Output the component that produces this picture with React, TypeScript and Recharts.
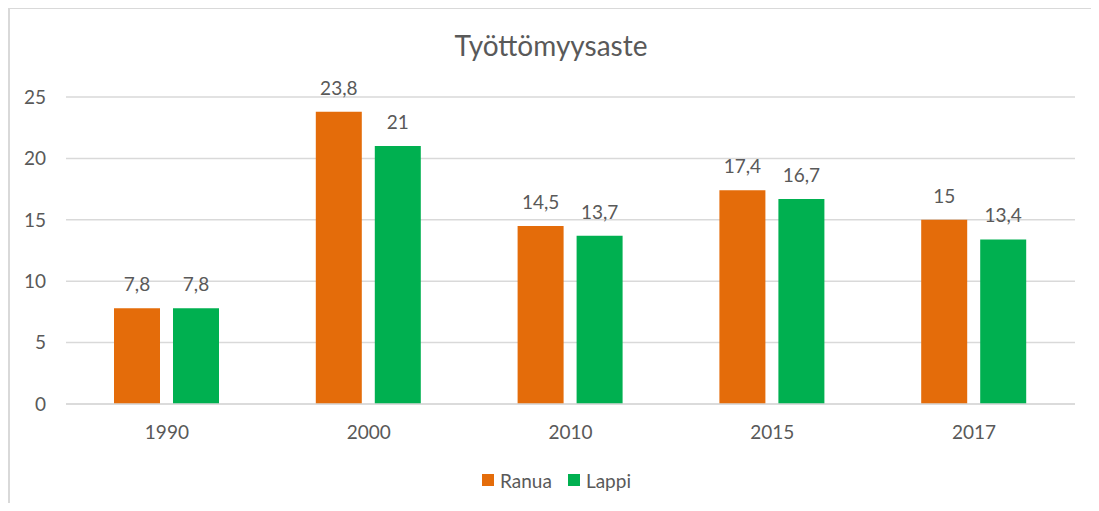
import React from 'react';
import { BarChart, Bar, XAxis, YAxis, CartesianGrid, Legend, LabelList } from 'recharts';

const years = ['1990', '2000', '2010', '2015', '2017'];
const ranua = [7.8, 23.8, 14.5, 17.4, 15];
const lappi = [7.8, 21, 13.7, 16.7, 13.4];
const yTicks = [0, 5, 10, 15, 20, 25];

const ORANGE = '#E46C0A';
const GREEN = '#00B050';
const TEXT = '#595959';
const FONT = 'Lato, "Open Sans", sans-serif';

const data = years.map((y, i) => ({ year: y, Ranua: ranua[i], Lappi: lappi[i] }));

const fmt = (v: any) => String(v).replace('.', ',');

const LegendBox = () => (
  <div style={{ display: 'flex', justifyContent: 'center', alignItems: 'center', height: 24, fontFamily: FONT, fontSize: 19, color: TEXT, paddingLeft: 54 }}>
    {[['Ranua', ORANGE], ['Lappi', GREEN]].map(([name, c]) => (
      <span key={name} style={{ display: 'flex', alignItems: 'center', marginRight: 16 }}>
        <span style={{ width: 12, height: 12, background: c, marginRight: 6, display: 'inline-block' }} />
        {name}
      </span>
    ))}
  </div>
);

export default function App() {
  return (
    <div style={{ position: 'relative', width: 1099, height: 511, margin: -8, background: '#fff', overflow: 'hidden' }}>
      <div style={{ position: 'absolute', left: 8, top: 7, width: 1092, height: 520, border: '2px solid #d9d9d9', boxSizing: 'border-box' }} />
      <div style={{ position: 'absolute', left: 0, width: 1102, top: 31, lineHeight: '29px', textAlign: 'center', fontFamily: FONT, fontSize: 28, color: TEXT }}>
        Työttömyysaste
      </div>
      <div style={{ position: 'absolute', left: 0, top: 0 }}>
        <BarChart width={1099} height={511} data={data} margin={{ top: 97, right: 24, left: 0, bottom: 19 }} barSize={46} barGap={13}>
          <CartesianGrid vertical={false} stroke="#d9d9d9" strokeWidth={1.5} />
          <XAxis dataKey="year" axisLine={{ stroke: '#d9d9d9', strokeWidth: 1.5 }} tickLine={false} tickSize={0} tickMargin={22} height={64}
            tick={{ fill: TEXT, fontSize: 19, fontFamily: FONT }} />
          <YAxis domain={[0, 25]} ticks={yTicks} width={66} axisLine={false} tickLine={false} tickSize={0} tickMargin={20}
            tick={{ fill: TEXT, fontSize: 19, fontFamily: FONT }} />
          <Legend verticalAlign="bottom" content={() => <LegendBox />} />
          <Bar dataKey="Ranua" fill={ORANGE} isAnimationActive={false}>
            <LabelList dataKey="Ranua" position="top" offset={17} formatter={fmt} fill={TEXT} fontSize={19} fontFamily={FONT} />
          </Bar>
          <Bar dataKey="Lappi" fill={GREEN} isAnimationActive={false}>
            <LabelList dataKey="Lappi" position="top" offset={17} formatter={fmt} fill={TEXT} fontSize={19} fontFamily={FONT} />
          </Bar>
        </BarChart>
      </div>
    </div>
  );
}
